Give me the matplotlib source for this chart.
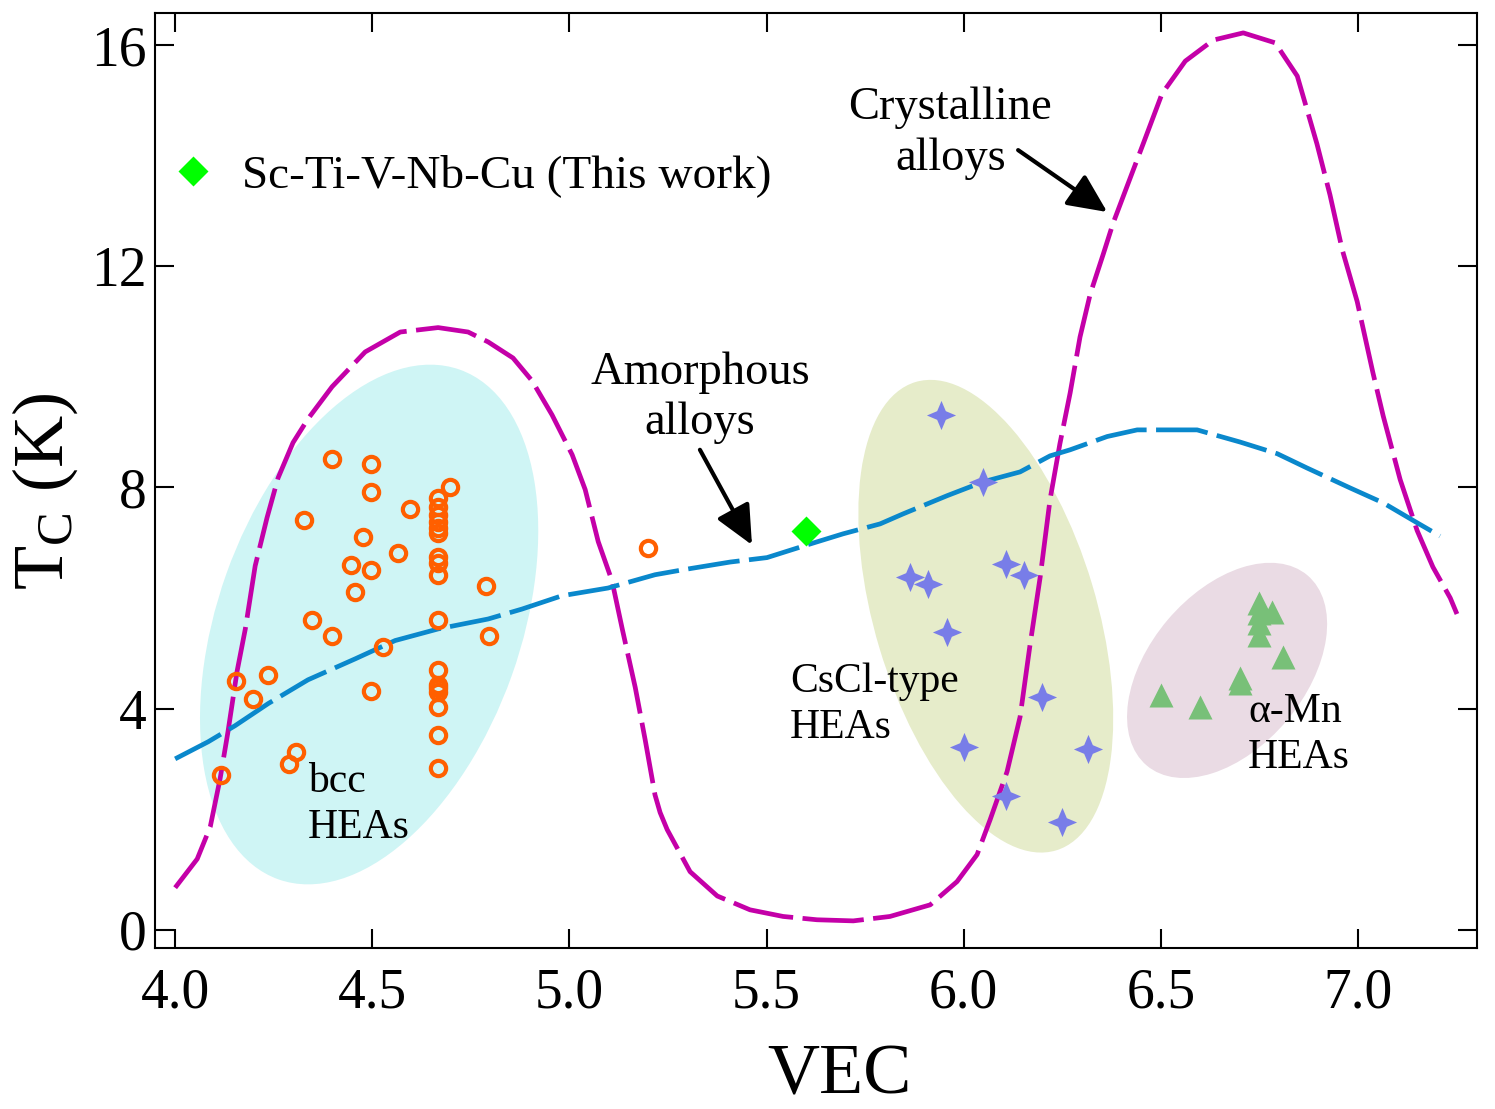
import numpy as np
import matplotlib; matplotlib.use('Agg')
import matplotlib.pyplot as plt
from matplotlib.patches import Ellipse
from matplotlib.lines import Line2D
from matplotlib.path import Path
from matplotlib.transforms import ScaledTranslation

plt.rcParams['font.family'] = ['Liberation Serif', 'DejaVu Serif']
plt.rcParams['mathtext.fontset'] = 'custom'
plt.rcParams['mathtext.rm'] = 'Liberation Serif'
plt.rcParams['mathtext.it'] = 'Liberation Serif:italic'

# bcc HEAs (open circles)
bcc_vec = [4.117, 4.155, 4.198, 4.236, 4.289, 4.307, 4.327, 4.347, 4.398, 4.398, 4.446, 4.456,
           4.477, 4.497, 4.497, 4.497, 4.497, 4.528, 4.566, 4.596, 4.697, 4.789, 4.796, 5.200,
           4.667, 4.667, 4.667, 4.667, 4.667, 4.667, 4.667, 4.667, 4.667, 4.667, 4.667, 4.667,
           4.667, 4.667, 4.667, 4.667, 4.667]
bcc_tc = [2.80, 4.50, 4.18, 4.61, 3.00, 3.22, 7.41, 5.61, 8.52, 5.32, 6.60, 6.11,
          7.11, 8.43, 7.92, 6.51, 4.32, 5.12, 6.82, 7.61, 8.01, 6.22, 5.32, 6.91,
          7.81, 7.65, 7.50, 7.38, 7.27, 7.18, 6.75, 6.64, 6.42, 5.61, 4.70, 4.43,
          4.38, 4.30, 4.03, 3.53, 2.93]

# CsCl-type HEAs (stars)
cscl_vec = [5.943, 6.049, 5.864, 5.910, 6.107, 6.153, 5.958, 6.199, 6.001, 6.315, 6.107, 6.250]
cscl_tc = [9.31, 8.10, 6.38, 6.26, 6.62, 6.42, 5.39, 4.21, 3.31, 3.26, 2.41, 1.95]

# alpha-Mn HEAs (triangles)
amn_vec = [6.748, 6.748, 6.782, 6.748, 6.748, 6.810, 6.701, 6.701, 6.501, 6.600]
amn_tc = [5.91, 5.72, 5.75, 5.55, 5.33, 4.94, 4.56, 4.47, 4.25, 4.03]

# this work
tw_vec = [5.60]
tw_tc = [7.21]

# amorphous alloys trend
am_vec = [4.000, 4.084, 4.152, 4.236, 4.337, 4.457, 4.558, 4.667, 4.794, 4.880, 4.981, 5.098,
          5.217, 5.288, 5.408, 5.501, 5.603, 5.694, 5.788, 5.846, 5.958, 6.049, 6.143, 6.219,
          6.270, 6.364, 6.440, 6.506, 6.592, 6.701, 6.795, 6.871, 6.980, 7.064, 7.150, 7.208]
am_tc = [3.09, 3.40, 3.69, 4.09, 4.52, 4.90, 5.23, 5.44, 5.62, 5.80, 6.04, 6.18,
         6.42, 6.51, 6.65, 6.73, 6.96, 7.16, 7.34, 7.52, 7.85, 8.10, 8.28, 8.57,
         8.68, 8.92, 9.04, 9.04, 9.04, 8.82, 8.61, 8.35, 7.99, 7.72, 7.36, 7.12]

# crystalline alloys trend
cr_vec = [4.000, 4.056, 4.089, 4.114, 4.134, 4.157, 4.178, 4.203, 4.233, 4.261, 4.299, 4.337,
          4.398, 4.482, 4.571, 4.667, 4.743, 4.794, 4.857, 4.905, 4.956, 5.007, 5.040, 5.073,
          5.108, 5.134, 5.167, 5.192, 5.217, 5.230, 5.248, 5.306, 5.375, 5.458, 5.542, 5.628,
          5.720, 5.813, 5.915, 5.983, 6.034, 6.067, 6.110, 6.143, 6.168, 6.194, 6.219, 6.244,
          6.270, 6.295, 6.321, 6.354, 6.379, 6.414, 6.455, 6.503, 6.562, 6.633, 6.709, 6.790,
          6.846, 6.896, 6.929, 6.960, 6.998, 7.038, 7.064, 7.107, 7.150, 7.190, 7.234, 7.251]
cr_tc = [0.76, 1.28, 1.86, 2.73, 3.58, 4.67, 5.44, 6.58, 7.45, 8.17, 8.81, 9.24,
         9.82, 10.45, 10.81, 10.89, 10.81, 10.63, 10.34, 9.93, 9.31, 8.59, 7.96, 7.02,
         6.31, 5.44, 4.38, 3.44, 2.44, 2.12, 1.81, 1.05, 0.61, 0.36, 0.24, 0.18,
         0.16, 0.24, 0.45, 0.87, 1.36, 1.99, 2.86, 3.85, 5.14, 6.38, 7.78, 8.79,
         9.71, 10.72, 11.50, 12.22, 12.78, 13.44, 14.21, 15.12, 15.71, 16.09, 16.22, 16.04,
         15.44, 14.21, 13.29, 12.30, 11.36, 10.07, 9.29, 8.14, 7.22, 6.56, 6.00, 5.71]

fig = plt.figure(figsize=(14.95, 11.09), dpi=100)
ax = fig.add_axes([0.1037, 0.1452, 0.8843, 0.8431])
ax.set_xlim(3.949, 7.302); ax.set_ylim(-0.33, 16.58)

# shaded regions (sizes in inches on the page, centred in data coords)
def blob(cx, cy, w, h, ang, col):
    tr = fig.dpi_scale_trans + ScaledTranslation(cx, cy, ax.transData)
    ax.add_patch(Ellipse((0, 0), w, h, angle=ang, transform=tr, fc=col, ec='none', zorder=1))

blob(4.492, 5.52, 5.41, 3.03, 70.4, '#cff5f5')
blob(6.056, 5.67, 4.89, 2.22, 106.7, '#e6ecca')
blob(6.668, 4.69, 2.49, 1.56, 49.8, '#eadbe4')

ax.plot(cr_vec, cr_tc, color='#c400a8', lw=3.4, ls=(0, (13, 2)), zorder=3)
ax.plot(am_vec, am_tc, color='#0a88cc', lw=3.4, ls=(0, (11, 2)), zorder=3)

star4 = Path.unit_regular_star(4, 0.42)
ax.plot(bcc_vec, bcc_tc, 'o', ms=11, mfc='none', mec='#ff5f00', mew=3, zorder=4)
ax.plot(cscl_vec, cscl_tc, ls='none', marker=star4, ms=21, color='#787de8', mec='none', zorder=4)
ax.plot(amn_vec, amn_tc, '^', ms=17, color='#78c078', mec='none', zorder=4)
ax.plot(tw_vec, tw_tc, 'D', ms=15, color='#00ff00', mec='none', zorder=5)

h = Line2D([], [], ls='none', marker='D', ms=15, color='#00ff00', mec='none')
ax.legend([h], ['Sc-Ti-V-Nb-Cu (This work)'], loc='center left', bbox_to_anchor=(0.0106, 0.826),
          frameon=False, fontsize=34, handlelength=1.0, handletextpad=0.55, borderpad=0, borderaxespad=0)

arrow = dict(arrowstyle='-|>,head_length=0.6,head_width=0.28', lw=3, color='k',
             mutation_scale=40, shrinkA=0, shrinkB=0)
ax.text(5.966, 14.41, 'Crystalline\nalloys', fontsize=33.5, ha='center', va='center', linespacing=1.25)
ax.annotate('', xy=(6.364, 12.98), xytext=(6.138, 14.10), arrowprops=arrow)
ax.text(5.331, 9.62, 'Amorphous\nalloys', fontsize=33.5, ha='center', va='center', linespacing=1.25)
ax.annotate('', xy=(5.463, 6.96), xytext=(5.331, 8.68), arrowprops=arrow)
ax.text(4.337, 2.26, 'bcc\nHEAs', fontsize=30, ha='left', va='center', linespacing=1.25)
ax.text(5.560, 4.07, 'CsCl-type\nHEAs', fontsize=30, ha='left', va='center', linespacing=1.25)
ax.text(6.721, 3.53, 'α-Mn\nHEAs', fontsize=30, ha='left', va='center', linespacing=1.25)

ax.set_xticks([4.0, 4.5, 5.0, 5.5, 6.0, 6.5, 7.0])
ax.set_xticklabels(['4.0', '4.5', '5.0', '5.5', '6.0', '6.5', '7.0'])
ax.set_yticks([0, 4, 8, 12, 16])
ax.tick_params(direction='in', length=14, width=1.5, labelsize=40, top=True, right=True)
ax.tick_params(axis='x', pad=14)
ax.tick_params(axis='y', pad=6)
for s in ax.spines.values(): s.set_linewidth(1.5)
ax.set_xlabel('VEC', fontsize=52, labelpad=17)
ax.set_ylabel(r'T$_\mathrm{C}$ (K)', fontsize=52, labelpad=8)
ax.xaxis.label.set_x(0.518)
ax.yaxis.label.set_y(0.488)

fig.savefig('out.png', dpi=100)
